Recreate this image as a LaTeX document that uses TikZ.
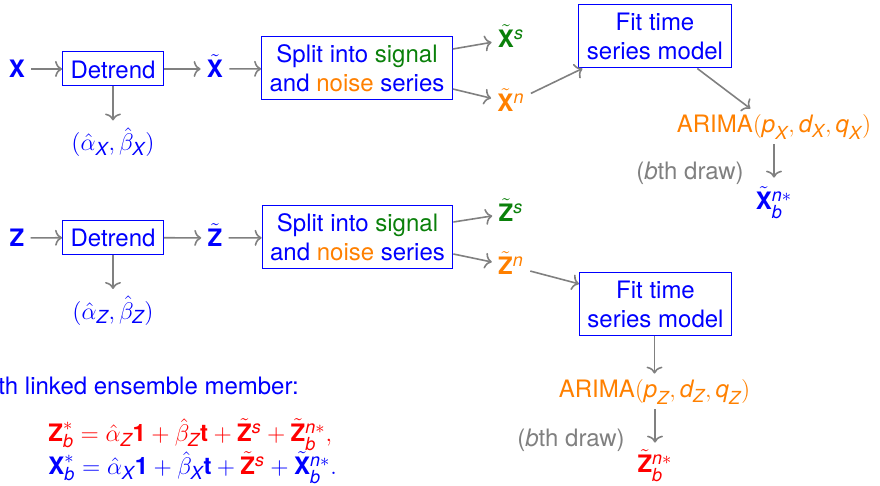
\documentclass[tikz,border=0pt]{standalone}
\usepackage{amsmath,amssymb}
\usepackage{fontspec}
\setmainfont{TeX Gyre Heros}
\usepackage{tikz}
\usetikzlibrary{arrows.meta,positioning}
\DeclareMathSizes{12}{12}{9}{7}
\definecolor{sigcol}{RGB}{10,128,10}
\definecolor{noicol}{RGB}{255,128,0}
\definecolor{arrcol}{RGB}{128,128,128}
\newcommand{\vb}[1]{\textbf{#1}}
\newcommand{\vt}[1]{{\tilde{\textbf{#1}}}{}}
\newcommand{\vi}[1]{\textit{#1}}
\tikzset{
  procbox/.style={draw=blue, line width=0.5pt, text=blue, align=center,
    inner xsep=4pt, inner ysep=2.5pt, font=\fontsize{12}{14.5}\selectfont},
  vnode/.style={inner sep=3pt, text height=9pt, text depth=0pt,
    font=\fontsize{12}{14}\selectfont},
  arr/.style={-{To[length=3.5pt,width=8pt]}, arrcol, line width=0.8pt},
}

\begin{document}
\begin{tikzpicture}[x=0.5pt, y=-0.5pt,
  node distance=18pt,
  every node/.style={font=\fontsize{12}{14}\selectfont}
]
  \clip (0,0) rectangle (880,486);
  % top row: X
  \node[vnode, text=blue] (xin) at (17,69) {$\vb{X}$};
  \node[procbox, text height=9.5pt, text depth=0pt, inner ysep=3.75pt] (detx) at (113,69) {Detrend};
  \node[text=blue, below=17pt of detx] (parx) {$(\hat{\alpha}_{\vi{X}},\hat{\beta}_{\vi{X}})$};
  \node[vnode, text=blue] (xt) at (215,69) {$\vt{X}$};
  \node[procbox, minimum height=31.5pt] (splitx) at (357,68.5)
    {Split into \textcolor{sigcol}{signal}\\and \textcolor{noicol}{noise} series};
  \node[vnode, text=sigcol] (xs) at (511,39) {$\vt{X}^{\vi{s}}$};
  \node[vnode, text=noicol] (xn) at (511,103) {$\vt{X}^{\vi{n}}$};
  \node[procbox, minimum height=31.5pt, minimum width=76pt] (fitx) at (655,36.5)
    {Fit time\\series model};
  \node[vnode, text=noicol, text depth=2.5pt] (arimax) at (774,126.5)
    {ARIMA$(\vi{p}_{\vi{X}},\vi{d}_{\vi{X}},\vi{q}_{\vi{X}})$};
  \node[vnode, text=blue] (xbn) at (774,201) {$\vt{X}_{\vi{b}}^{\vi{n}*}$};
  \node[text=arrcol] (drawx) at (690,173) {(\vi{b}th draw)};
  \draw[arr] (xin) -- (detx);
  \draw[arr] (detx) -- (xt);
  \draw[arr] (detx) -- (parx);
  \draw[arr] (xt) -- (splitx);
  \draw[arr] ([yshift=9.75pt]splitx.east) -- (xs);
  \draw[arr] ([yshift=-10.25pt]splitx.east) -- (xn);
  \draw[arr] (xn) -- ([xshift=2pt]fitx.south west);
  \draw[arr] (fitx) -- (arimax);
  \draw[arr] (arimax.south -| xbn) -- ([yshift=4pt]xbn.north);

  % bottom row: Z
  \node[vnode, text=blue] (zin) at (17,238) {$\vb{Z}$};
  \node[procbox, text height=9.5pt, text depth=0pt, inner ysep=3.75pt] (detz) at (113,237.5) {Detrend};
  \node[text=blue, below=17pt of detz] (parz) {$(\hat{\alpha}_{\vi{Z}},\hat{\beta}_{\vi{Z}})$};
  \node[vnode, text=blue] (zt) at (215,238) {$\vt{Z}$};
  \node[procbox, minimum height=31.5pt] (splitz) at (357.5,237.5)
    {Split into \textcolor{sigcol}{signal}\\and \textcolor{noicol}{noise} series};
  \node[vnode, text=sigcol] (zs) at (511,213) {$\vt{Z}^{\vi{s}}$};
  \node[vnode, text=noicol] (zn) at (511,266) {$\vt{Z}^{\vi{n}}$};
  \node[procbox, minimum height=31.5pt, minimum width=76pt] (fitz) at (655.5,304)
    {Fit time\\series model};
  \node[vnode, text=noicol, text depth=2.5pt] (arimaz) at (654.5,391.5)
    {ARIMA$(\vi{p}_{\vi{Z}},\vi{d}_{\vi{Z}},\vi{q}_{\vi{Z}})$};
  \node[vnode, text=red] (zbn) at (655,464) {$\vt{Z}_{\vi{b}}^{\vi{n}*}$};
  \node[text=arrcol] (drawz) at (571,440) {(\vi{b}th draw)};
  \draw[arr] (zin) -- (detz);
  \draw[arr] (detz) -- (zt);
  \draw[arr] (detz) -- (parz);
  \draw[arr] (zt) -- (splitz);
  \draw[arr] ([yshift=7.75pt]splitz.east) -- (zs);
  \draw[arr] ([yshift=-8.25pt]splitz.east) -- (zn);
  \draw[arr] (zn) -- (fitz);
  \draw[arr] (fitz.south -| arimaz) -- (arimaz);
  \draw[arr] (arimaz.south -| zbn) -- ([yshift=3pt]zbn.north);

  % linked ensemble member
  \node[text=blue, anchor=base west, inner sep=0pt] (ens) at (-2,395)
    {th linked ensemble member:};
  \node[text=red, anchor=base west, inner sep=0pt] (eqz) at (48,442)
    {$\vb{Z}_{\vi{b}}^{*}=\hat{\alpha}_{\vi{Z}}\vb{1}+\hat{\beta}_{\vi{Z}}\vb{t}
      +\vt{Z}^{\vi{s}}+\vt{Z}_{\vi{b}}^{\vi{n}*},$};
  \node[text=blue, anchor=base west, inner sep=0pt] (eqx) at (48,475)
    {$\vb{X}_{\vi{b}}^{*}=\hat{\alpha}_{\vi{X}}\vb{1}+\hat{\beta}_{\vi{X}}\vb{t}
      +\textcolor{red}{\vt{Z}^{\vi{s}}}+\vt{X}_{\vi{b}}^{\vi{n}*}.$};
\end{tikzpicture}
\end{document}
